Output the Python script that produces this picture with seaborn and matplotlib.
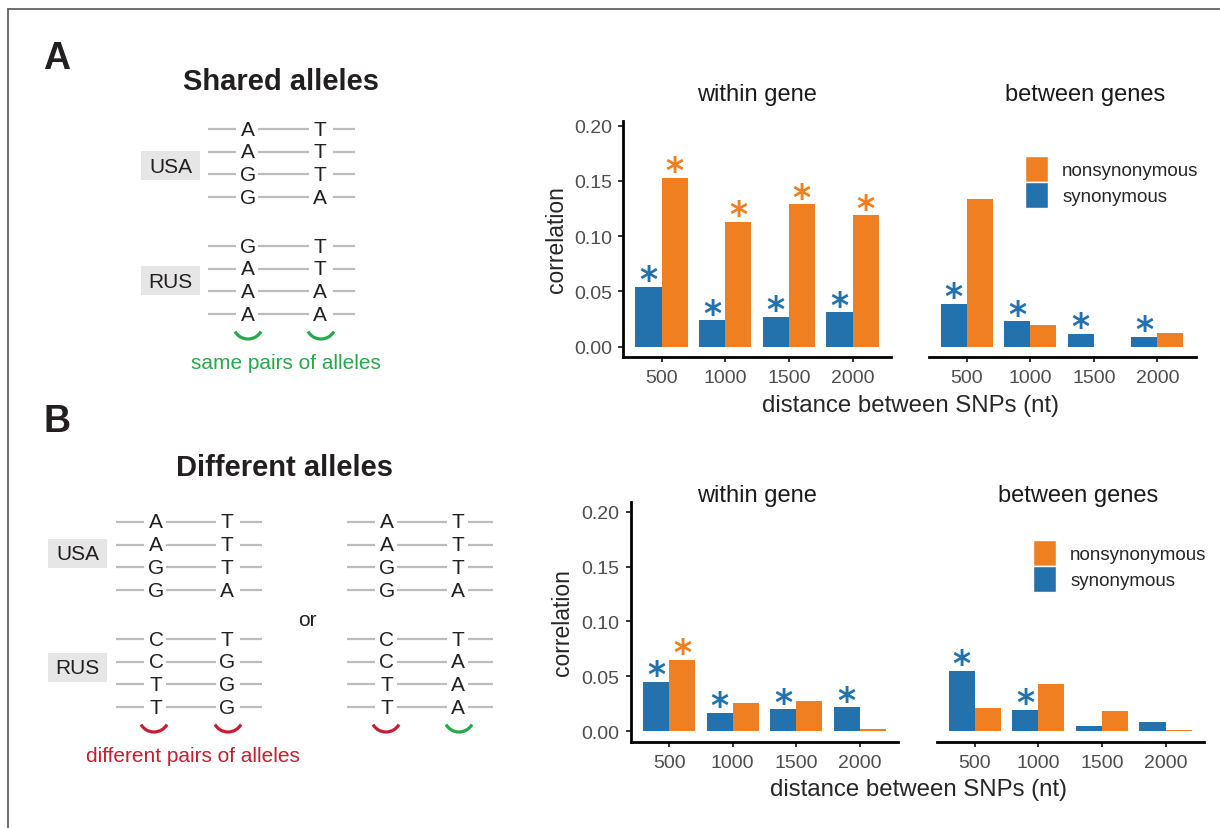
import numpy as np
import pandas as pd
import matplotlib.pyplot as plt
import seaborn as sns
from matplotlib.patches import Rectangle, Arc, Patch

distances = ['500', '1000', '1500', '2000']
hue_levels = ['synonymous', 'nonsynonymous']

# panel A: shared alleles
a_within_syn = [0.054, 0.024, 0.027, 0.031]
a_within_non = [0.153, 0.113, 0.129, 0.119]
a_between_syn = [0.039, 0.023, 0.0115, 0.009]
a_between_non = [0.134, 0.0195, 0.0, 0.0125]
a_within_syn_sig = [1, 1, 1, 1]
a_within_non_sig = [1, 1, 1, 1]
a_between_syn_sig = [1, 1, 1, 1]
a_between_non_sig = [0, 0, 0, 0]

# panel B: different alleles
b_within_syn = [0.045, 0.017, 0.020, 0.022]
b_within_non = [0.065, 0.026, 0.028, 0.002]
b_between_syn = [0.055, 0.0195, 0.005, 0.0085]
b_between_non = [0.021, 0.043, 0.0185, 0.0015]
b_within_syn_sig = [1, 1, 1, 1]
b_within_non_sig = [1, 0, 0, 0]
b_between_syn_sig = [1, 1, 0, 0]
b_between_non_sig = [0, 0, 0, 0]

# schematic alleles
usa_pairs = [('A', 'T'), ('A', 'T'), ('G', 'T'), ('G', 'A')]
rus_shared = [('G', 'T'), ('A', 'T'), ('A', 'A'), ('A', 'A')]
rus_diff_1 = [('C', 'T'), ('C', 'G'), ('T', 'G'), ('T', 'G')]
rus_diff_2 = [('C', 'T'), ('C', 'A'), ('T', 'A'), ('T', 'A')]

blue = '#2372ad'
orange = '#f07f22'
green = '#25a94a'
red = '#c61d32'
grey_line = '#bdbdbd'
ink = '#231f20'

sns.set_style('ticks')
plt.rcParams['font.family'] = ['Liberation Sans', 'DejaVu Sans']

W, H = 1220, 829
fig = plt.figure(figsize=(W / 100, H / 100), dpi=100)

bg = fig.add_axes([0, 0, 1, 1])
bg.set_xlim(0, W)
bg.set_ylim(H, 0)
bg.axis('off')

# frame
bg.plot([8, 8], [10, H], color='#555555', lw=1.2)
bg.plot([8, W], [10, 10], color='#555555', lw=1.2)


def draw_block(c1, c2, y0, pairs, right_gap=13):
    for i, (a, b) in enumerate(pairs):
        y = y0 + i * 22.7
        for xa, xb in [(c1 - 40, c1 - 12), (c1 + 10, c2 - 11), (c2 + right_gap, c2 + 35)]:
            bg.plot([xa, xb], [y, y], color=grey_line, lw=1.6, solid_capstyle='butt')
        bg.text(c1, y, a, ha='center', va='center', fontsize=15, color=ink)
        bg.text(c2, y, b, ha='center', va='center', fontsize=15, color=ink)


def pop_label(x, y, name):
    bg.add_patch(Rectangle((x, y), 59, 29, color='#e6e6e6', lw=0))
    bg.text(x + 29.5, y + 15, name, ha='center', va='center', fontsize=15, color=ink)


def smile(cx, ybot, col):
    bg.add_patch(Arc((cx, ybot - 15), 30, 30, theta1=30, theta2=150, color=col, lw=2.3))


# A schematic
bg.text(57, 59, 'A', ha='center', va='center', fontsize=27, fontweight='bold', color=ink)
bg.text(281, 82, 'Shared alleles', ha='center', va='center', fontsize=21, fontweight='bold', color=ink)
pop_label(141, 152, 'USA')
pop_label(141, 267, 'RUS')
draw_block(248, 320, 130, usa_pairs)
draw_block(248, 320, 247, rus_shared)
smile(248, 340, green)
smile(321, 340, green)
bg.text(285.5, 363, 'same pairs of alleles', ha='center', va='center', fontsize=15, color=green)

# B schematic
bg.text(57, 422, 'B', ha='center', va='center', fontsize=27, fontweight='bold', color=ink)
bg.text(285, 468, 'Different alleles', ha='center', va='center', fontsize=21, fontweight='bold', color=ink)
pop_label(48, 540, 'USA')
pop_label(48, 654, 'RUS')
draw_block(156, 227, 523, usa_pairs)
draw_block(156, 227, 640, rus_diff_1)
draw_block(387, 458, 523, usa_pairs, right_gap=10)
draw_block(387, 458, 640, rus_diff_2, right_gap=10)
bg.text(307, 620, 'or', ha='center', va='center', fontsize=15, color=ink)
for cx, col in zip([154, 228, 386, 459], [red, red, red, green]):
    smile(cx, 733, col)
bg.text(193, 757, 'different pairs of alleles', ha='center', va='center', fontsize=15, color=red)


def px_axes(x0, x1, y0, y1):
    return fig.add_axes([x0 / W, 1 - y1 / H, (x1 - x0) / W, (y1 - y0) / H])


def panel_frame(syn, non):
    return pd.DataFrame({
        'distance': distances * 2,
        'correlation': syn + non,
        'type': ['synonymous'] * 4 + ['nonsynonymous'] * 4,
    })


def bar_panel(ax, syn, non, syn_sig, non_sig, ylim, first):
    sns.barplot(data=panel_frame(syn, non), x='distance', y='correlation', hue='type',
                order=distances, hue_order=hue_levels, palette=[blue, orange],
                width=0.82, saturation=1, linewidth=0, errorbar=None, legend=False, ax=ax)
    for cont, sig, col in zip(ax.containers, [syn_sig, non_sig], [blue, orange]):
        for bar, s in zip(cont, sig):
            if s:
                ax.annotate('*', (bar.get_x() + bar.get_width() / 2, bar.get_height()),
                            xytext=(0, -2.5), textcoords='offset points', ha='center',
                            va='baseline', fontsize=25, fontweight='bold', color=col,
                            family='DejaVu Sans', annotation_clip=False)
    ax.set_xlim(-0.6, 3.6)
    ax.set_ylim(*ylim)
    ax.set_yticks([0, 0.05, 0.10, 0.15, 0.20])
    ax.set_yticklabels(['0.00', '0.05', '0.10', '0.15', '0.20'])
    ax.set_xlabel('')
    ax.set_ylabel('')
    ax.set_facecolor('none')
    for side in ['top', 'right']:
        ax.spines[side].set_visible(False)
    for side in ['left', 'bottom']:
        ax.spines[side].set_linewidth(2.0)
        ax.spines[side].set_color('black')
    ax.tick_params(axis='both', length=3.6, width=1.4, color='#333333',
                   labelsize=14, labelcolor='#4d4d4d', pad=4.5)
    if not first:
        ax.spines['left'].set_visible(False)
        ax.tick_params(axis='y', left=False, labelleft=False)


top_ylim = (-0.0096, 0.2045)
bot_ylim = (-0.010, 0.209)

ax1 = px_axes(623.3, 890.7, 121.7, 358.3)
ax2 = px_axes(928.5, 1195.5, 121.7, 358.3)
ax3 = px_axes(631, 898, 502.7, 743.3)
ax4 = px_axes(936.7, 1203.7, 502.7, 743.3)

bar_panel(ax1, a_within_syn, a_within_non, a_within_syn_sig, a_within_non_sig, top_ylim, True)
bar_panel(ax2, a_between_syn, a_between_non, a_between_syn_sig, a_between_non_sig, top_ylim, False)
bar_panel(ax3, b_within_syn, b_within_non, b_within_syn_sig, b_within_non_sig, bot_ylim, True)
bar_panel(ax4, b_between_syn, b_between_non, b_between_syn_sig, b_between_non_sig, bot_ylim, False)

# facet titles and axis titles
for x, y, s in [(757, 95, 'within gene'), (1085, 95, 'between genes'),
                (757, 496, 'within gene'), (1078, 496, 'between genes')]:
    fig.text(x / W, 1 - y / H, s, ha='center', va='center', fontsize=17, color='#1a1a1a')
fig.text(910 / W, 1 - 406 / H, 'distance between SNPs (nt)', ha='center', va='center', fontsize=17.3)
fig.text(919 / W, 1 - 790 / H, 'distance between SNPs (nt)', ha='center', va='center', fontsize=17.3)
fig.text(556 / W, 1 - 240 / H, 'correlation', ha='center', va='center', rotation=90, fontsize=16.5)
fig.text(563 / W, 1 - 623 / H, 'correlation', ha='center', va='center', rotation=90, fontsize=16.5)

handles = [Patch(facecolor=orange, label='nonsynonymous'), Patch(facecolor=blue, label='synonymous')]
for lx, ly in [(1025, 157), (1033, 541)]:
    fig.legend(handles=handles, loc='upper left', bbox_to_anchor=(lx / W, 1 - ly / H),
               frameon=False, borderpad=0, borderaxespad=0, fontsize=13.5,
               handlelength=1.227, handleheight=1.756, handletextpad=0.75, labelspacing=0)

fig.savefig('out.png', dpi=100)
